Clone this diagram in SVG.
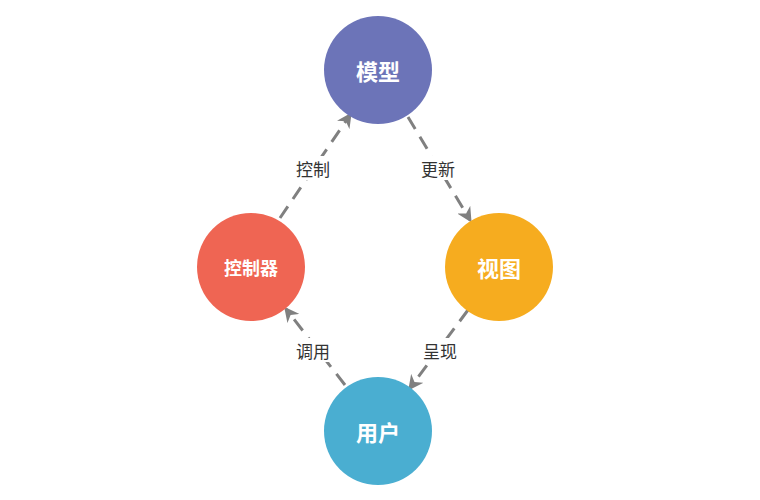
<svg xmlns="http://www.w3.org/2000/svg" width="760" height="500" viewBox="0 0 760 500">
<style>
.n{font-family:"Noto Sans CJK SC",sans-serif;font-weight:bold;fill:#fff;text-anchor:middle;dominant-baseline:central}
.l{font-family:"Noto Sans CJK SC",sans-serif;font-size:17px;fill:#333;text-anchor:middle;dominant-baseline:central}
.c{stroke:#808080;stroke-width:3;stroke-dasharray:14 9;fill:none;marker-end:url(#a)}
.bg{fill:#fff}
</style>
<defs><marker id="a" viewBox="0 0 10 10" refX="8" refY="5" markerWidth="5" markerHeight="5" orient="auto" markerUnits="strokeWidth"><path d="M0,0 L10,5 L0,10 L3,5 z" fill="#808080"/></marker></defs>
<rect width="760" height="500" fill="#fff"/>
<g id="connectors">
<path class="c" d="M408,117 L470,220"/>
<path class="c" d="M468,310 L410,388"/>
<path class="c" d="M345,385 L286,309"/>
<path class="c" d="M280,218 L350,115"/>
<rect class="bg" x="416" y="156" width="44" height="24"/><text class="l" x="438" y="168">更新</text>
<rect class="bg" x="291" y="156" width="44" height="24"/><text class="l" x="313" y="168">控制</text>
<rect class="bg" x="291" y="338" width="44" height="24"/><text class="l" x="313" y="350">调用</text>
<rect class="bg" x="418" y="338" width="44" height="24"/><text class="l" x="440" y="350">呈现</text>
</g>
<g id="model"><circle cx="378" cy="70" r="54" fill="#6c74b8"/><text class="n" x="378" y="70" font-size="22">模型</text></g>
<g id="view"><circle cx="499" cy="267" r="54" fill="#f6ac1f"/><text class="n" x="499" y="267" font-size="22">视图</text></g>
<g id="controller"><circle cx="251" cy="267" r="54" fill="#ef6553"/><text class="n" x="251" y="267" font-size="18">控制器</text></g>
<g id="user"><circle cx="378" cy="431" r="54" fill="#4aaed1"/><text class="n" x="378" y="431" font-size="22">用户</text></g>
</svg>
